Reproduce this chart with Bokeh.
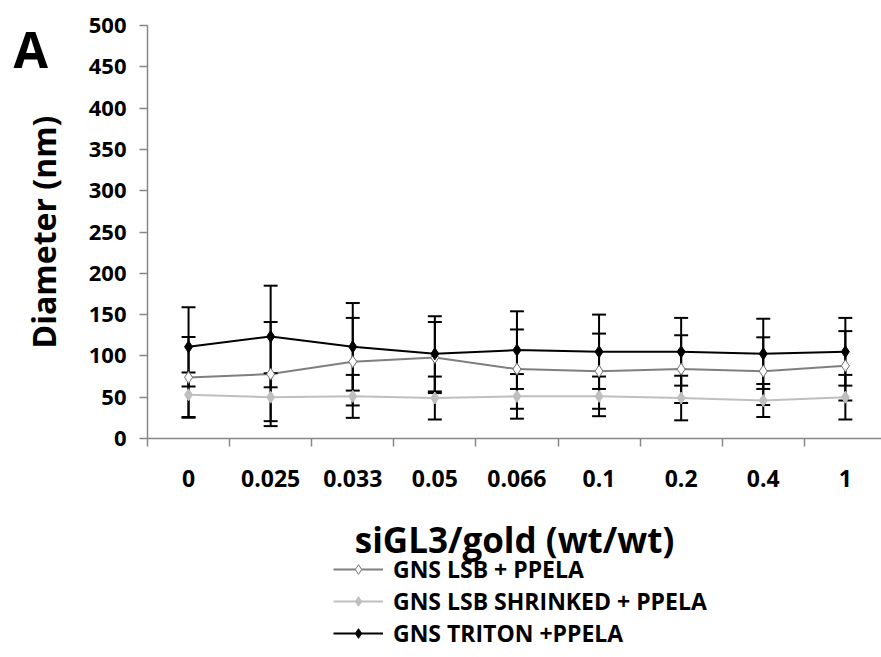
from bokeh.plotting import figure
from bokeh.models import (ColumnDataSource, FixedTicker, Range1d, Legend, LegendItem, Label)
from bokeh.embed import file_html
from bokeh.resources import INLINE

# ---- data ----
categories = ["0", "0.025", "0.033", "0.05", "0.066", "0.1", "0.2", "0.4", "1"]
lsb = [74, 78, 93, 98, 84, 81.5, 84, 81.5, 88]
lsb_err = [49, 63, 53, 43, 48, 45.5, 41, 41, 42]
shrinked = [53, 50, 51, 49, 51, 51, 49, 46, 50]
shrinked_err = [27, 29, 26, 26, 27, 24, 27, 20, 27]
triton = [111, 123.5, 111, 102.5, 107, 105, 105, 102.5, 105]
triton_err = [48, 61.5, 53, 45.5, 47, 45, 41, 42.5, 41]
y_ticks = [0, 50, 100, 150, 200, 250, 300, 350, 400, 450, 500]
series_names = ["GNS LSB + PPELA", "GNS LSB SHRINKED + PPELA", "GNS TRITON +PPELA"]

FONT = "Open Sans"
AXIS_COLOR = "#868686"

# ---- layout (pixels) ----
W, H = 881, 657
AX_LEFT, AX_TOP, AX_BOTTOM = 147, 25, 438
CAT_W = 82.1
Y_MIN, Y_MAX = 0, 500
ppu = (AX_BOTTOM - AX_TOP) / (Y_MAX - Y_MIN)
y_lo = Y_MIN - (H - AX_BOTTOM) / ppu
y_hi = Y_MIN + AX_BOTTOM / ppu
x_lo = -0.5 - AX_LEFT / CAT_W
x_hi = -0.5 + (W - AX_LEFT) / CAT_W

xs = list(range(len(categories)))

p = figure(frame_width=W, frame_height=H, min_border=0,
           x_range=Range1d(x_lo, x_hi), y_range=Range1d(y_lo, y_hi),
           output_backend="svg", toolbar_location=None)
p.outline_line_color = None
p.xgrid.visible = False
p.ygrid.visible = False
p.background_fill_color = "white"
p.border_fill_color = "white"

# y axis
ya = p.yaxis[0]
ya.fixed_location = -0.5
ya.bounds = (Y_MIN, Y_MAX)
ya.ticker = FixedTicker(ticks=y_ticks)
ya.axis_line_color = AXIS_COLOR
ya.axis_line_width = 1.5
ya.major_tick_line_color = AXIS_COLOR
ya.major_tick_line_width = 1.5
ya.major_tick_out = 8
ya.major_tick_in = 0
ya.minor_tick_line_color = None
ya.major_label_standoff = 13
ya.major_label_text_font = FONT
ya.major_label_text_font_style = "bold"
ya.major_label_text_font_size = "22px"
ya.major_label_text_color = "black"
ya.axis_label = "Diameter (nm)"
ya.axis_label_text_font = FONT
ya.axis_label_text_font_style = "bold"
ya.axis_label_text_font_size = "32px"
ya.axis_label_text_color = "black"
ya.axis_label_standoff = 21

# x axis
xa = p.xaxis[0]
xa.fixed_location = 0
xa.bounds = (-0.5, x_hi)
xa.ticker = FixedTicker(ticks=xs, minor_ticks=[i - 0.5 for i in range(len(categories) + 1)])
xa.major_label_overrides = {i: c for i, c in enumerate(categories)}
xa.axis_line_color = AXIS_COLOR
xa.axis_line_width = 1.5
xa.major_tick_line_color = None
xa.major_tick_out = 0
xa.major_tick_in = 0
xa.minor_tick_line_color = AXIS_COLOR
xa.minor_tick_line_width = 1.5
xa.minor_tick_out = 8
xa.minor_tick_in = 0
xa.major_label_standoff = 23
xa.major_label_text_font = FONT
xa.major_label_text_font_style = "bold"
xa.major_label_text_font_size = "23px"
xa.major_label_text_color = "black"
xa.axis_label = "siGL3/gold (wt/wt)"
xa.axis_label_text_font = FONT
xa.axis_label_text_font_style = "bold"
xa.axis_label_text_font_size = "35px"
xa.axis_label_text_color = "black"
xa.axis_label_standoff = 26

specs = [
    (lsb, lsb_err, "#7f7f7f", "white", "#6f6f6f"),
    (shrinked, shrinked_err, "#bfbfbf", "#bfbfbf", "#bfbfbf"),
    (triton, triton_err, "black", "black", "black"),
]

cap = 0.085
sources = []
line_renderers = []
for vals, errs, lc, mfill, mline in specs:
    src = ColumnDataSource(dict(
        x=xs, y=vals,
        lo=[v - e for v, e in zip(vals, errs)],
        hi=[v + e for v, e in zip(vals, errs)],
        xl=[x - cap for x in xs], xr=[x + cap for x in xs]))
    sources.append(src)
    line_renderers.append(p.line("x", "y", source=src, line_color=lc, line_width=2))

for src in sources:
    p.segment(x0="x", y0="lo", x1="x", y1="hi", source=src, line_color="black", line_width=2)
    p.segment(x0="xl", y0="hi", x1="xr", y1="hi", source=src, line_color="black", line_width=2)
    p.segment(x0="xl", y0="lo", x1="xr", y1="lo", source=src, line_color="black", line_width=2)

marker_renderers = []
for src, (vals, errs, lc, mfill, mline) in zip(sources, specs):
    marker_renderers.append(p.scatter("x", "y", source=src, marker="diamond", size=12,
                                      fill_color=mfill, line_color=mline, line_width=1))

items = [LegendItem(label=name, renderers=[lr, mr])
         for name, lr, mr in zip(series_names, line_renderers, marker_renderers)]
legend = Legend(items=items, location=(333, 8), orientation="vertical",
                label_text_font=FONT, label_text_font_style="bold",
                label_text_font_size="23px", label_text_color="black",
                glyph_width=50, glyph_height=24, label_height=24, label_standoff=10,
                spacing=0, padding=0, margin=0,
                border_line_color=None, background_fill_alpha=0)
p.add_layout(legend)

panel_label = Label(x=-0.5 - (AX_LEFT - 13) / CAT_W, y=(AX_BOTTOM - 48) / ppu, text="A",
                    text_font=FONT, text_font_style="bold", text_font_size="50px",
                    text_color="black", text_baseline="alphabetic")
p.add_layout(panel_label)

open("out.html", "w").write(file_html(p, INLINE))
